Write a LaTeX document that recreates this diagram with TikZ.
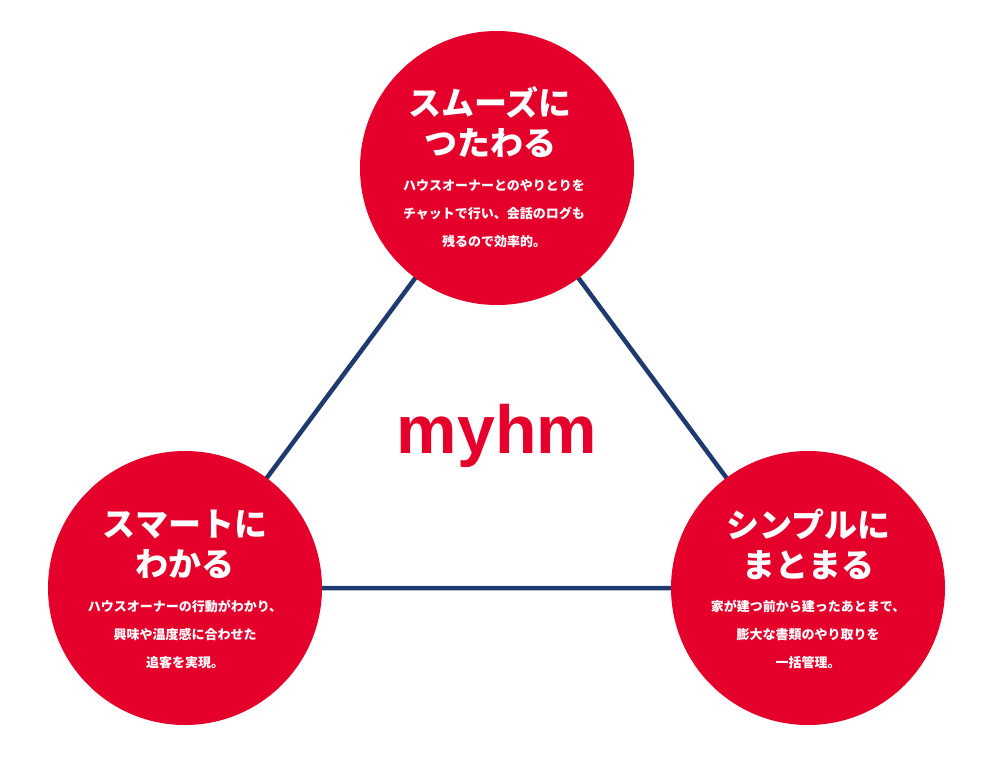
\documentclass[tikz,border=0pt]{standalone}
\usepackage{fontspec}
\setmainfont{Noto Sans CJK JP}
\newfontfamily\latinb{Liberation Sans}
\definecolor{myred}{HTML}{E4002B}
\definecolor{mynavy}{HTML}{1F3A6E}
\tikzset{
  bubble/.style={circle,fill=myred,minimum size=274pt,inner sep=0pt},
  ttl/.style={text=white,font=\bfseries\fontsize{33}{40}\selectfont,align=center},
  desc/.style={text=white,font=\bfseries\fontsize{13}{28}\selectfont,align=center},
  edge/.style={draw=mynavy,line width=4.5pt}
}
\begin{document}
\begin{tikzpicture}[x=1pt,y=-1pt]
\useasboundingbox (0,0) rectangle (1000,760);
\coordinate (ct) at (497,168);
\coordinate (cl) at (185,588);
\coordinate (cr) at (808,588);
\draw[edge] (ct) -- (cl) -- (cr) -- cycle;
\node[bubble] (top) at (ct) {};
\node[bubble] (left) at (cl) {};
\node[bubble] (right) at (cr) {};
\node[ttl] (t1) at (490,122) {スムーズに\\つたわる};
\node[desc] (d1) at (494,214) {ハウスオーナーとのやりとりを\\チャットで行い、会話のログも\\残るので効率的。};
\node[ttl] (t2) at (185,544) {スマートに\\わかる};
\node[desc] (d2) at (185,634) {ハウスオーナーの行動がわかり、\\興味や温度感に合わせた\\追客を実現。};
\node[ttl] (t3) at (808,544) {シンプルに\\まとまる};
\node[desc] (d3) at (808,634) {家が建つ前から建ったあとまで、\\膨大な書類のやり取りを\\一括管理。};
\node[text=myred,font=\latinb\bfseries\fontsize{68}{74}\selectfont] (m) at (497,436) {myhm};
\end{tikzpicture}
\end{document}
